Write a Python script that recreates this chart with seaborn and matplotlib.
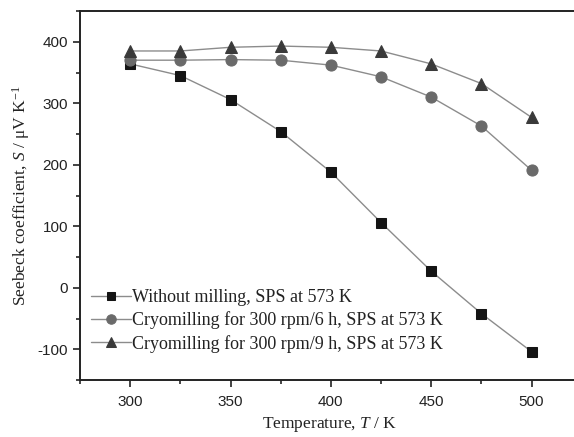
import matplotlib
matplotlib.use("Agg")
import matplotlib.pyplot as plt
import seaborn as sns
import pandas as pd
from matplotlib.ticker import MultipleLocator

temperature = [300, 325, 350, 375, 400, 425, 450, 475, 500]
without_milling = [364, 345, 306, 254, 188, 106, 27, -42, -104]
cryo_6h = [370, 370, 371, 370, 362, 343, 310, 263, 191]
cryo_9h = [385, 385, 391, 393, 391, 385, 364, 332, 277]
labels = [
    "Without milling, SPS at 573 K",
    "Cryomilling for 300 rpm/6 h, SPS at 573 K",
    "Cryomilling for 300 rpm/9 h, SPS at 573 K",
]

sns.set_style("white")
plt.rcParams["font.family"] = ["Liberation Sans", "DejaVu Sans"]
plt.rcParams["mathtext.fontset"] = "custom"
plt.rcParams["mathtext.it"] = "Liberation Serif:italic"
plt.rcParams["mathtext.rm"] = "Liberation Serif"
plt.rcParams["axes.unicode_minus"] = False

fig = plt.figure(figsize=(5.74, 4.37), dpi=100)
ax = fig.add_axes([80 / 574, 1 - 380 / 437, 1 - 80 / 574 + 0.01, (380 - 11) / 437])

styles = [("s", "#141414", 6.5), ("o", "#6a6a6a", 8), ("^", "#3a3a3a", 8)]
for vals, lab, (mk, col, ms) in zip([without_milling, cryo_6h, cryo_9h], labels, styles):
    df = pd.DataFrame({"T": temperature, "S": vals})
    sns.lineplot(data=df, x="T", y="S", ax=ax, color="#8c8c8c", lw=1.0,
                 marker=mk, markersize=ms, markerfacecolor=col,
                 markeredgecolor=col, label=lab)

ax.set_xlim(275, 524)
ax.set_ylim(-150, 450)
ax.xaxis.set_major_locator(MultipleLocator(50))
ax.xaxis.set_minor_locator(MultipleLocator(25))
ax.yaxis.set_major_locator(MultipleLocator(100))
ax.yaxis.set_minor_locator(MultipleLocator(50))
ax.tick_params(axis="both", which="major", direction="out", length=5, width=1.2,
               labelsize=11, colors="#222222", bottom=True, left=True)
ax.tick_params(axis="both", which="minor", direction="out", length=3, width=1.2,
               bottom=True, left=True)
ax.tick_params(axis="x", pad=6)
for s in ["left", "bottom", "top"]:
    ax.spines[s].set_color("#222222")
    ax.spines[s].set_linewidth(1.4)
ax.spines["right"].set_visible(False)

ax.set_xlabel("Temperature, $T$ / K", fontsize=12.5, family="Liberation Serif",
              labelpad=4, color="#222222")
ax.set_ylabel("Seebeck coefficient, $S$ / μV K$^{-1}$", fontsize=12.5,
              family="Liberation Serif", labelpad=4, color="#222222")

leg = ax.legend(loc="lower left", bbox_to_anchor=(0.0, 0.045), frameon=False,
                prop={"family": "Liberation Serif", "size": 13},
                handlelength=2.2, handletextpad=0.1, labelspacing=0.3,
                borderaxespad=0.2, markerscale=0.85)
for t in leg.get_texts():
    t.set_color("#222222")

fig.savefig("out.png", dpi=100)
